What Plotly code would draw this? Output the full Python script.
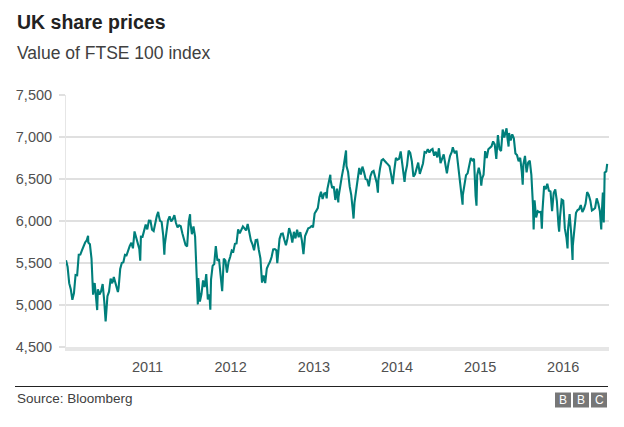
import pandas as pd
import plotly.graph_objects as go

# ---- Data: FTSE 100 weekly closes (Fridays) ----
weekly_start = "2010-01-08"
v2010 = [5534, 5455, 5260, 5189, 5061, 5142, 5358, 5355, 5599, 5600, 5650, 5703,
         5744, 5770, 5743, 5723, 5553, 5123, 5262, 5063, 5188, 5126, 5163, 5250,
         5046, 4838, 5105, 5159, 5313, 5258, 5333, 5276, 5195, 5201, 5428, 5501,
         5508, 5598, 5592, 5657, 5703, 5741, 5675, 5876, 5797, 5732, 5668, 5813,
         5812, 5871, 5957, 5900]
v2011 = [6004, 6002, 5896, 5881, 5997, 6062, 6083, 6001, 5990, 5829, 5718, 5900,
         6009, 6055, 5996, 6022, 6070, 5976, 5925, 5948, 5938, 5855, 5765, 5714,
         5697, 5990, 5990, 5843, 5935, 5815, 5247, 5320, 5040, 5130, 5293, 5214,
         5368, 5067, 5128, 5303, 5466, 5488, 5702, 5527, 5545, 5362, 5164, 5552,
         5529, 5387, 5512, 5572]
v2012 = [5649, 5636, 5728, 5733, 5901, 5852, 5905, 5935, 5912, 5887, 5965, 5855,
         5768, 5723, 5651, 5772, 5777, 5655, 5554, 5267, 5351, 5260, 5435, 5478,
         5514, 5571, 5663, 5666, 5651, 5627, 5788, 5847, 5852, 5777, 5711, 5795,
         5916, 5853, 5742, 5871, 5793, 5896, 5806, 5868, 5770, 5605, 5820, 5866,
         5914, 5921, 5940, 5925]
v2013 = [6089, 6121, 6154, 6284, 6347, 6263, 6328, 6335, 6379, 6483, 6489, 6393,
         6412, 6250, 6385, 6286, 6426, 6522, 6625, 6723, 6654, 6583, 6411, 6308,
         6116, 6215, 6375, 6544, 6631, 6554, 6647, 6583, 6499, 6492, 6413, 6533,
         6583, 6596, 6512, 6453, 6487, 6622, 6721, 6735, 6708, 6693, 6674, 6651,
         6552, 6440, 6606, 6750]
v2014 = [6730, 6740, 6829, 6663, 6510, 6571, 6663, 6838, 6810, 6712, 6527, 6557,
         6616, 6695, 6561, 6625, 6685, 6822, 6814, 6855, 6815, 6845, 6858, 6777,
         6825, 6757, 6866, 6690, 6749, 6792, 6679, 6567, 6689, 6776, 6820, 6855,
         6806, 6837, 6650, 6527, 6340, 6310, 6419, 6546, 6567, 6654, 6750, 6723,
         6742, 6300, 6545, 6633]
v2015 = [6548, 6501, 6550, 6832, 6749, 6853, 6873, 6889, 6947, 6912, 6740, 7022,
         6855, 6833, 7089, 6995, 7071, 6986, 7047, 6960, 7032, 6984, 6804, 6784,
         6711, 6753, 6585, 6673, 6775, 6580, 6696, 6718, 6550, 6188, 6247, 6042,
         6117, 6105, 6109, 6130, 6416, 6378, 6444, 6361, 6353, 6118, 6334, 6375,
         6238, 5952, 6052, 6254]
v2016 = [6242, 5912, 5804, 5900, 6083, 5848, 5708, 5950, 6097, 6130, 6140, 6190,
         6106, 6146, 6204, 6344, 6310, 6242, 6125, 6138, 6156, 6270, 6209, 6115,
         6021, 6138, 6577, 6590]

# Intra-week highs/lows visible on the chart
extra_dates = ["2010-04-15", "2010-05-25", "2010-07-01", "2010-08-24", "2010-11-30",
               "2011-02-17", "2011-03-16", "2011-07-07", "2011-08-08", "2011-08-10",
               "2011-10-04", "2012-07-24", "2013-02-26", "2013-03-14", "2013-04-18",
               "2013-05-22", "2013-06-24", "2013-10-09", "2014-02-03", "2014-09-03",
               "2014-10-16", "2014-12-16", "2015-01-06", "2015-04-27", "2015-05-06",
               "2015-07-07", "2015-08-24", "2015-09-29", "2015-12-14", "2016-01-20",
               "2016-02-11", "2016-06-16", "2016-06-23", "2016-06-27", "2016-07-12"]
extra_values = [5825, 4940, 4805, 5155, 5528,
                6110, 5599, 6080, 5069, 5007,
                4944, 5499, 6270, 6550, 6220,
                6840, 6029, 6337, 6465, 6878,
                6195, 6182, 6420, 7104, 6886,
                6432, 5898, 5909, 5874, 5673,
                5537, 5900, 6338, 5982, 6680]

y_ticks = [4500, 5000, 5500, 6000, 6500, 7000, 7500]
x_tick_labels = ["2011", "2012", "2013", "2014", "2015", "2016"]

# ---- Build series ----
weekly_vals = v2010 + v2011 + v2012 + v2013 + v2014 + v2015 + v2016
weekly_dates = pd.date_range(weekly_start, periods=len(weekly_vals), freq="W-FRI")
s = pd.concat([
    pd.Series(weekly_vals, index=weekly_dates),
    pd.Series(extra_values, index=pd.to_datetime(extra_dates)),
]).sort_index()

# ---- Layout geometry (pixels) ----
W, H = 624, 427
L, R, T, B = 66, 15, 95, 80
plot_h = H - T - B
plot_w = W - L - R

def px_x(x):
    return (x - L) / plot_w

def px_y(y):
    return (H - B - y) / plot_h

LINE = "#007f7b"
GRID = "#e0e0e0"

fig = go.Figure()
fig.add_trace(go.Scatter(x=s.index, y=s.values, mode="lines",
                         line=dict(color=LINE, width=2.1), hoverinfo="skip",
                         showlegend=False))

fig.update_layout(
    width=W, height=H,
    margin=dict(l=L, r=R, t=T, b=B),
    paper_bgcolor="white", plot_bgcolor="white",
    font=dict(family="Liberation Sans, Arial, sans-serif", color="#505050"),
    xaxis=dict(
        type="date",
        range=["2010-01-08", "2016-07-20"],
        tickvals=[f"{y}-01-01" for y in x_tick_labels],
        ticktext=x_tick_labels,
        showgrid=False, zeroline=False,
        showline=True, linecolor="#e6e6e6", linewidth=4,
        ticks="", tickfont=dict(size=14.5, color="#505050"),
        ticklabelstandoff=4,
    ),
    yaxis=dict(
        range=[4500, 7500],
        tickvals=y_ticks,
        ticktext=[f"{v:,}" for v in y_ticks],
        showgrid=True, gridcolor=GRID, gridwidth=2,
        zeroline=False,
        showline=True, linecolor="#e6e6e6", linewidth=1,
        ticks="outside", ticklen=6, tickcolor=GRID, tickwidth=2,
        tickfont=dict(size=14.5, color="#505050"),
        ticklabelstandoff=4,
    ),
)

annotations = [
    dict(text="<b>UK share prices</b>", x=px_x(15), y=px_y(22), xanchor="left",
         yanchor="middle", font=dict(size=19.5, color="#222222")),
    dict(text="Value of FTSE 100 index", x=px_x(15), y=px_y(53.5), xanchor="left",
         yanchor="middle", font=dict(size=17.5, color="#404040")),
    dict(text="Source: Bloomberg", x=px_x(15), y=px_y(398.5), xanchor="left",
         yanchor="middle", font=dict(size=13.5, color="#404040")),
]
shapes = [
    dict(type="line", xref="paper", yref="paper", x0=px_x(15), x1=px_x(608),
         y0=px_y(386.5), y1=px_y(386.5), line=dict(color="#222222", width=1)),
]
for letter, x0 in zip(["B", "B", "C"], [555, 573, 591]):
    shapes.append(dict(type="rect", xref="paper", yref="paper",
                       x0=px_x(x0), x1=px_x(x0 + 16), y0=px_y(392.5), y1=px_y(407.5),
                       fillcolor="#777777", line=dict(width=0)))
    annotations.append(dict(text=letter, x=px_x(x0 + 8), y=px_y(400),
                            xanchor="center", yanchor="middle", showarrow=False,
                            font=dict(size=12, color="white")))
for a in annotations:
    a.setdefault("showarrow", False)
    a["xref"] = "paper"
    a["yref"] = "paper"
fig.update_layout(annotations=annotations, shapes=shapes)

fig.write_html("out.html")
